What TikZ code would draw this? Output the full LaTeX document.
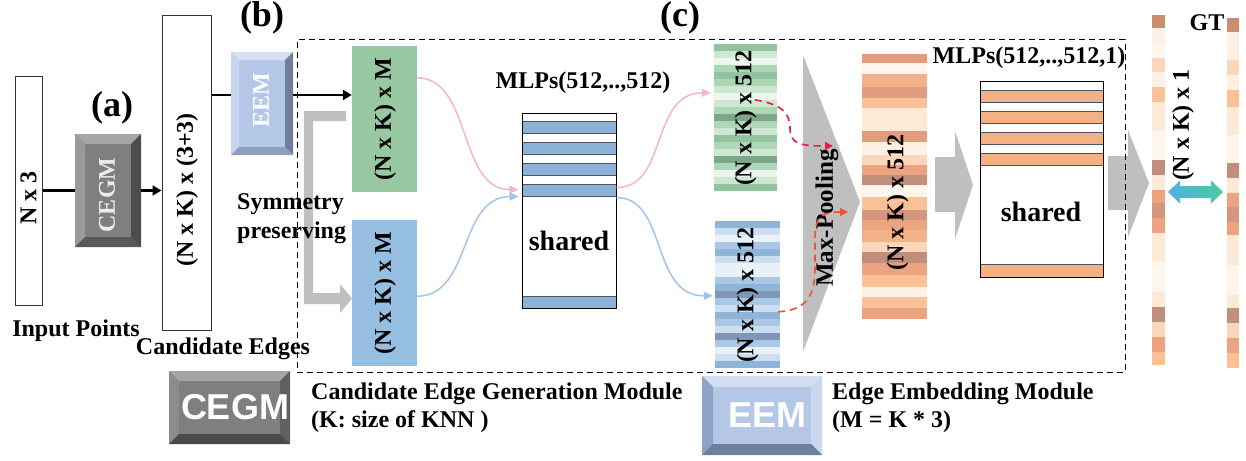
\documentclass[tikz,border=0pt]{standalone}
\usepackage{fontspec}
\setmainfont{Liberation Serif}
\setsansfont{Liberation Sans}
\usetikzlibrary{arrows.meta,calc}
% bevel colours
\definecolor{cgsF}{RGB}{127,127,127}\definecolor{cgsT}{RGB}{166,166,166}\definecolor{cgsL}{RGB}{154,154,154}\definecolor{cgsR}{RGB}{77,77,77}\definecolor{cgsB}{RGB}{89,89,89}
\definecolor{cglF}{RGB}{127,127,127}\definecolor{cglT}{RGB}{165,165,165}\definecolor{cglL}{RGB}{140,140,140}\definecolor{cglR}{RGB}{96,96,96}\definecolor{cglB}{RGB}{74,74,74}
\definecolor{eesF}{RGB}{180,199,231}\definecolor{eesT}{RGB}{214,225,244}\definecolor{eesL}{RGB}{200,213,238}\definecolor{eesR}{RGB}{111,127,153}\definecolor{eesB}{RGB}{142,160,194}
\definecolor{eelF}{RGB}{180,199,231}\definecolor{eelT}{RGB}{211,222,242}\definecolor{eelL}{RGB}{143,163,198}\definecolor{eelR}{RGB}{201,216,240}\definecolor{eelB}{RGB}{110,127,156}
% general colours
\definecolor{boxc}{RGB}{50,50,62}
\definecolor{greenbox}{RGB}{151,200,161}
\definecolor{bluebox}{RGB}{150,190,225}
\definecolor{mlpblue}{RGB}{141,178,215}
\definecolor{mlporange}{RGB}{244,177,131}
\definecolor{stripeline}{RGB}{80,84,96}
\definecolor{arrowgray}{RGB}{191,191,191}
\definecolor{pinkc}{RGB}{245,182,196}
\definecolor{lbluec}{RGB}{160,196,236}
\definecolor{redA}{RGB}{228,30,62}
\definecolor{redB}{RGB}{240,80,42}
\definecolor{dblL}{RGB}{80,178,230}
\definecolor{dblR}{RGB}{76,201,154}
% green stripes
\definecolor{G1}{RGB}{145,196,158}\definecolor{G2}{RGB}{172,214,182}\definecolor{G3}{RGB}{205,232,210}\definecolor{G4}{RGB}{236,246,236}\definecolor{G5}{RGB}{125,165,138}
% blue stripes
\definecolor{B1}{RGB}{142,180,215}\definecolor{B2}{RGB}{170,200,230}\definecolor{B3}{RGB}{205,222,240}\definecolor{B4}{RGB}{232,240,248}\definecolor{B5}{RGB}{125,150,185}
% orange stripes
\definecolor{oD}{RGB}{205,140,110}\definecolor{oS1}{RGB}{226,156,126}\definecolor{oW}{RGB}{254,246,236}\definecolor{oO}{RGB}{244,178,138}
\definecolor{oO2}{RGB}{250,192,150}\definecolor{oP}{RGB}{252,234,214}\definecolor{oP2}{RGB}{253,240,228}\definecolor{oL}{RGB}{250,214,186}
\definecolor{oS2}{RGB}{236,164,128}\definecolor{oBr}{RGB}{192,142,122}\definecolor{oBr2}{RGB}{212,150,126}
\newcommand\bevelbox[6]{%
 \fill[#6F] (#1,#2) rectangle (#3,#4);
 \fill[#6T] (#1,#2) -- (#3,#2) -- ({#3-#5},{#2+#5}) -- ({#1+#5},{#2+#5}) -- cycle;
 \fill[#6L] (#1,#2) -- ({#1+#5},{#2+#5}) -- ({#1+#5},{#4-#5}) -- (#1,#4) -- cycle;
 \fill[#6R] (#3,#2) -- (#3,#4) -- ({#3-#5},{#4-#5}) -- ({#3-#5},{#2+#5}) -- cycle;
 \fill[#6B] (#1,#4) -- (#3,#4) -- ({#3-#5},{#4-#5}) -- ({#1+#5},{#4-#5}) -- cycle;
}
\begin{document}
\begin{tikzpicture}[x=1pt,y=-1pt,
  lbl/.style={font=\fontsize{24}{28}\selectfont\bfseries, inner sep=0},
  big/.style={font=\fontsize{36}{40}\selectfont\bfseries, inner sep=0},
  plainbox/.style={draw=boxc, line width=1pt, fill=white, inner sep=0},
  ghost/.style={draw=none, inner sep=0},
  blk/.style={line width=2.6pt, black},
  blktip/.style={-{Triangle[length=9pt,width=10pt]}},
  curve/.style={line width=1.5pt, -{Triangle[length=9pt,width=8pt]}},
  reddash/.style={line width=1.6pt, dash pattern=on 7pt off 5pt, -{Triangle[length=8pt,width=8pt]}},
  stripe/.style={draw=stripeline, line width=0.8pt}
]
\useasboundingbox (0,0) rectangle (1246,460);

% ---------------- (a) ----------------
\node[plainbox, minimum width=27, minimum height=229] (inp) at (28.5,190.5) {};
\node[lbl, rotate=90] at (28.5,198) {N x 3};
\node[lbl, font=\fontsize{24}{28}\selectfont\bfseries] (inplbl) at (76,331) {Input Points};
\node[big] (la) at (112,108) {(a)};

\bevelbox{75}{134}{141}{247}{10}{cgs}
\node[ghost, minimum width=66, minimum height=113] (cegm) at (108,190.5) {};
\node[lbl, rotate=90, text={rgb,255:red,236;green,236;blue,236}] at (107,195) {CEGM};

\node[plainbox, minimum width=49, minimum height=314] (cand) at (186.5,173) {};
\node[lbl, rotate=90] at (187,190) {(N x K) x (3+3)};
\node[lbl] (candlbl) at (223,349) {Candidate Edges};

\draw[blk] (inp.east) -- (cegm.west);
\draw[blk, blktip] (cegm.east) -- (cegm.east -| cand.west);

% ---------------- (b) ----------------
\node[big] (lb) at (262,18) {(b)};
\bevelbox{231}{52}{293}{155}{8}{ees}
\node[ghost, minimum width=62, minimum height=103] (eem) at (262,103.5) {};
\node[lbl, rotate=90, text=white] at (261,100) {EEM};

% arrow-bearing arrays
\node[draw=none, fill=greenbox, minimum width=65, minimum height=146, inner sep=0] (green) at (384.5,119) {};
\node[lbl, rotate=90] at (385,119) {(N x K) x M};
\node[draw=none, fill=bluebox, minimum width=65, minimum height=146, inner sep=0] (blue) at (384.5,293) {};
\node[lbl, rotate=90] at (385,293) {(N x K) x M};

\coordinate (e1) at ($(eem.west)+(0,-8.5)$);
\coordinate (e2) at ($(eem.east)+(0,-8.5)$);
\draw[line width=2.4pt] (e1 -| cand.east) -- (e1);
\draw[line width=2.4pt, blktip] (e2) -- (e2 -| green.west);

% gray elbow arrow (symmetry preserving)
\fill[arrowgray] (346,111) -- (304,111) -- (304,304) -- (340,304) -- (340,313) -- (352,298.5)
  -- (340,284) -- (340,293) -- (313,293) -- (313,121) -- (346,121) -- cycle;
\node[lbl, font=\fontsize{24}{29}\selectfont\bfseries, align=left, anchor=west] (sym) at (237,219) {Symmetry\\preserving};

% ---------------- (c) ----------------
\node[big] (lc) at (680,18) {(c)};

% shared MLP 1
\node[plainbox, draw=black, minimum width=94, minimum height=195] (mlp) at (569,210.5) {};
\foreach \ya/\yb in {121/133,142/154,163/175,184/196,296/308}
  \filldraw[stripe, fill=mlpblue] (522,\ya) rectangle (616,\yb);
\draw[black, line width=1pt] (522,113) rectangle (616,308);
\node[lbl, font=\fontsize{28}{30}\selectfont\bfseries] at (569,241) {shared};
\node[lbl] (mlplbl) at (583,83) {MLPs(512,..,512)};

% green striped feature
\node[ghost, minimum width=63, minimum height=147] (gs) at (745.5,117.5) {};
\foreach \c [count=\i from 0] in {G1,G3,G4,G2,G1,G2,G3,G4,G3,G2,G5,G2,G3,G1,G2,G3,G5,G2,G4,G3,G1}
  \fill[\c] (714,{44+7*\i}) rectangle (777,{51+7*\i});
\node[lbl, rotate=90] at (745.5,118) {(N x K) x 512};

% blue striped feature
\node[ghost, minimum width=65, minimum height=147] (bs) at (747.5,294.5) {};
\foreach \c [count=\i from 0] in {B1,B3,B4,B2,B1,B3,B4,B4,B2,B1,B5,B2,B3,B1,B2,B3,B5,B2,B4,B3,B1}
  \fill[\c] (715,{221+7*\i}) rectangle (780,{228+7*\i});
\node[lbl, rotate=90] at (747.5,295) {(N x K) x 512};

% curves
\coordinate (p1) at ($(green.north east)+(0,32)$);
\coordinate (p2) at ($(mlp.north west)+(-3,77)$);
\coordinate (b1) at ($(blue.south east)+(0,-70)$);
\coordinate (b2) at ($(mlp.north west)+(-3,84)$);
\coordinate (p3) at ($(mlp.north east)+(0,75)$);
\coordinate (p4) at ($(gs.north west)+(-3,49)$);
\coordinate (b3) at ($(mlp.north east)+(0,85)$);
\coordinate (b4) at ($(bs.north west)+(-2,75)$);
\draw[curve, pinkc] (p1) .. controls (472,78) and (458,190) .. (p2);
\draw[curve, lbluec] (b1) .. controls (472,296) and (458,197) .. (b2);
\draw[curve, pinkc] (p3) .. controls (668,188) and (650,93) .. (p4);
\draw[curve, lbluec] (b3) .. controls (668,198) and (650,296) .. (b4);

% max pooling triangle
\fill[arrowgray] (803,55) -- (860,202) -- (803,352) -- cycle;
\node[ghost] (mp) at (827,218) {};
\node[lbl, font=\fontsize{25}{28}\selectfont\bfseries, rotate=90] at (827,218) {Max-Pooling};

% red dashed arrows
\coordinate (r1s) at ($(gs.north west)+(41,56)$);
\coordinate (r1e) at (833,146);
\coordinate (r2s) at ($(bs.north east)+(-2,91)$);
\coordinate (r2e) at (848,212);
\draw[reddash, redA] (r1s) .. controls (780,104) and (790,112) .. (790,128) .. controls (790,144) and (800,146) .. (r1e);
\draw[reddash, redB] (r2s) .. controls (805,310) and (815,298) .. (815,268) -- (815,238) .. controls (815,216) and (822,212) .. (r2e);

% orange pooled feature
\node[ghost, minimum width=65, minimum height=265] (ob) at (894.5,186.5) {};
\foreach \ya/\yb/\c in {54/63/oS1,63/74/oW,74/87/oO,87/98/oS1,98/108/oO2,108/131/oP,131/142/oS1,142/155/oP2,155/165/oL,165/175/oS2,175/185/oBr,185/197/oW,197/210/oO2,210/220/oBr2,220/230/oS2,230/242/oO,242/252/oL,252/263/oBr,263/275/oS2,275/287/oO2,287/297/oP2,297/308/oO2,308/319/oS2}
  \fill[\c] (862,\ya) rectangle (927,\yb);
\node[lbl, rotate=90] at ($(ob.center)+(3,16)$) {(N x K) x 512};

% gray block arrow 1
\fill[arrowgray] (935,157) -- (955,157) -- (955,131) -- (973,185) -- (955,239) -- (955,212) -- (935,212) -- cycle;

% shared MLP 2
\node[plainbox, draw=black, minimum width=123, minimum height=196] (mlp2) at (1041.5,179) {};
\foreach \ya/\yb in {90/102,111/123,132/144,153/165,264/277}
  \filldraw[stripe, fill=mlporange] (980,\ya) rectangle (1103,\yb);
\draw[black, line width=1pt] (980,81) rectangle (1103,277);
\node[lbl, font=\fontsize{28}{30}\selectfont\bfseries] at (1041,212) {shared};
\node[lbl] (mlp2lbl) at (1029,58) {MLPs(512,..,512,1)};

% gray block arrow 2
\fill[arrowgray] (1108,156) -- (1128,156) -- (1128,130) -- (1149,183) -- (1128,237) -- (1128,210) -- (1108,210) -- cycle;

% dashed frame
\node[draw=black, line width=1pt, dash pattern=on 6pt off 4pt, minimum width=828, minimum height=332, inner sep=0] (frame) at (711,206) {};

% output bar
\node[ghost, minimum width=13, minimum height=350] (out) at (1158.5,190) {};
\foreach \ya/\yb/\c in {15/28/oD,28/43/oP2,43/58/oW,58/72/oL,72/87/oP2,87/102/oO2,102/130/oP,130/160/oW,160/175/oBr,175/190/oP,190/203/oS2,203/218/oBr2,218/233/oS2,233/262/oP,262/292/oW,292/307/oP,307/322/oBr,322/337/oL,337/352/oS2,352/365/oO2}
  \fill[\c] (1152,\ya) rectangle (1165,\yb);
% GT bar
\node[ghost, minimum width=12, minimum height=350] (gt) at (1233,193) {};
\foreach \ya/\yb/\c in {18/32/oD,32/60/oP2,60/75/oL,75/90/oP2,90/107/oO2,107/135/oP,135/163/oW,163/178/oBr,178/193/oP,193/207/oS2,207/222/oBr2,222/235/oS2,235/265/oP,265/295/oW,295/308/oP,308/323/oBr,323/338/oL,338/353/oS2,353/368/oO2}
  \fill[\c] (1227,\ya) rectangle (1239,\yb);
\node[lbl] (gtlbl) at (1207,23) {GT};
\node[lbl, rotate=90] at (1183,125) {(N x K) x 1};

% double arrow with gradient
\shade[left color=dblL, right color=dblR]
  (1168,192) -- (1180,180.5) -- (1180,186) -- (1211,186) -- (1211,180.5) -- (1223,192)
  -- (1211,203.5) -- (1211,198) -- (1180,198) -- (1180,203.5) -- cycle;

% ---------------- legend ----------------
\bevelbox{169}{371}{290}{444}{10}{cgl}
\node[ghost, minimum width=121, minimum height=73] (legc) at (229.5,407.5) {};
\node[inner sep=0, text=white, font=\fontsize{36}{40}\selectfont\sffamily\bfseries] at (235,407) {CEGM};
\node[lbl, align=left, anchor=west, font=\fontsize{24}{28}\selectfont\bfseries] (legctext) at (311,408) {Candidate Edge Generation Module\\(K: size of KNN )};

\bevelbox{702}{376}{822}{455}{11}{eel}
\node[ghost, minimum width=120, minimum height=79] (lege) at (762,415.5) {};
\node[inner sep=0, text=white, font=\fontsize{36}{40}\selectfont\sffamily\bfseries] at (767,415) {EEM};
\node[lbl, align=left, anchor=west, font=\fontsize{24}{28}\selectfont\bfseries] (legetext) at (832,408) {Edge Embedding Module\\(M = K * 3)};
\end{tikzpicture}
\end{document}
